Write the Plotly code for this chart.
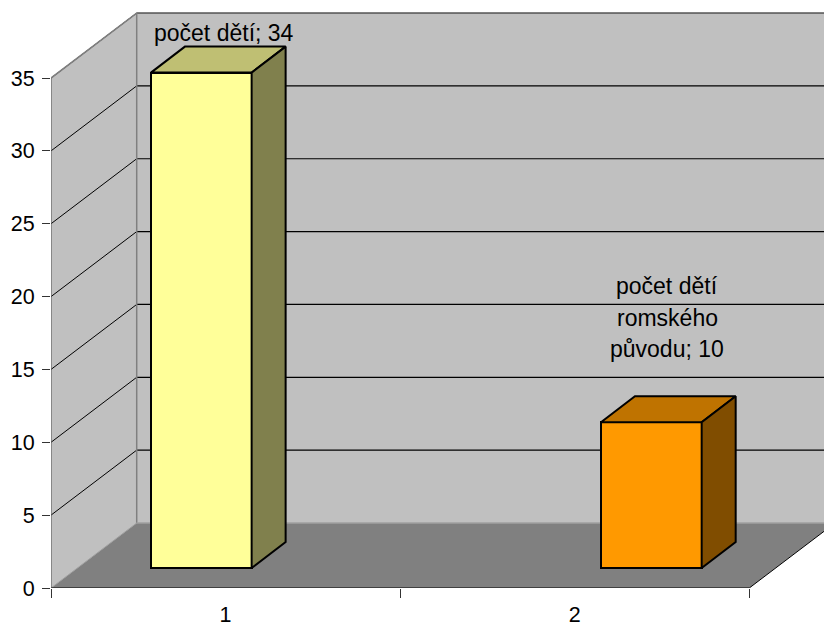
import plotly.graph_objects as go

# data
categories = [1, 2]
values = [34, 10]
bar_labels = [["počet dětí; 34"], ["počet dětí", "romského", "původu; 10"]]
front_colors = ["#FFFF99", "#FF9900"]
top_colors = ["#BFBF73", "#BF7300"]
side_colors = ["#80804D", "#804D00"]
y_ticks = [0, 5, 10, 15, 20, 25, 30, 35]

# geometry
W, H = 824, 626
L, B = 51, 38
PX_X = 349.15         # px per category
PX_Y = 14.57          # px per value unit
ux = lambda px: px / PX_X
uy = lambda px: px / PX_Y
x0, x1 = 0.5, 2.5
y_top = 35
wall_dx, wall_dy = ux(85.7), uy(65)
bar_dx, bar_dy = ux(34), uy(26)
bar_w = ux(100.7)
bar_shift = [ux(-24.3), ux(76.6)]
floor_lift = uy(20)
x_max = x0 + (W - L) / PX_X
y_max = (H - B) / PX_Y

shapes = []


def poly(pts, fill, line=None, width=1):
    path = "M " + " L ".join(f"{x},{y}" for x, y in pts) + " Z"
    shapes.append(dict(type="path", path=path, xref="x", yref="y", layer="below",
                       fillcolor=fill, line=dict(color=line or fill, width=width if line else 0)))


def seg(a, b, color, width=1):
    shapes.append(dict(type="line", xref="x", yref="y", layer="below",
                       x0=a[0], y0=a[1], x1=b[0], y1=b[1], line=dict(color=color, width=width)))


bx0, by0 = x0 + wall_dx, wall_dy
bx1 = x1 + wall_dx
# back wall, side wall, floor
poly([(bx0, by0), (bx1, by0), (bx1, by0 + y_top), (bx0, by0 + y_top)], "#C0C0C0")
poly([(x0, 0), (bx0, by0), (bx0, by0 + y_top), (x0, y_top)], "#C0C0C0")
poly([(x0, 0), (x1, 0), (bx1, by0), (bx0, by0)], "#808080")
# gridlines on both walls
for t in y_ticks[1:]:
    seg((x0, t), (bx0, by0 + t), "#000000")
    seg((bx0, by0 + t), (bx1, by0 + t), "#000000", 1.2)
# wall edges
seg((x0, 0), (x0, y_top), "#606060", 1.2)
seg((x0, y_top), (bx0, by0 + y_top), "#808080", 1.5)
seg((bx0, by0 + y_top), (bx1, by0 + y_top), "#808080", 1.5)
seg((bx0, by0), (bx0, by0 + y_top), "#808080", 1.5)
seg((bx0, by0), (bx1, by0), "#A0A0A0", 1.5)
seg((x0, 0), (bx0, by0), "#A0A0A0", 1)
# floor front edges
seg((x0, 0), (x1, 0), "#000000", 1.2)
seg((x1, 0), (bx1, by0), "#000000", 1)

fig = go.Figure()

# front faces
fig.add_trace(go.Bar(
    x=[c + s for c, s in zip(categories, bar_shift)],
    y=values,
    base=[floor_lift] * len(values),
    width=bar_w,
    marker=dict(color=front_colors, line=dict(color="#000000", width=2)),
    showlegend=False,
    hoverinfo="skip",
))

# top and side faces
for c, s, v, tc, sc in zip(categories, bar_shift, values, top_colors, side_colors):
    xl = c + s - bar_w / 2
    xr = c + s + bar_w / 2
    yb = floor_lift
    yt = floor_lift + v
    fig.add_trace(go.Scatter(
        x=[xl, xr, xr + bar_dx, xl + bar_dx, xl],
        y=[yt, yt, yt + bar_dy, yt + bar_dy, yt],
        mode="lines", fill="toself", fillcolor=tc,
        line=dict(color="#000000", width=2), showlegend=False, hoverinfo="skip",
    ))
    fig.add_trace(go.Scatter(
        x=[xr, xr + bar_dx, xr + bar_dx, xr, xr],
        y=[yb, yb + bar_dy, yt + bar_dy, yt, yb],
        mode="lines", fill="toself", fillcolor=sc,
        line=dict(color="#000000", width=2), showlegend=False, hoverinfo="skip",
    ))

# data labels
FONT = "Liberation Sans, Arial, sans-serif"
FS = 21.5
LABEL_FS = 23
annotations = []
label_dx = [ux(-1.6), ux(92.3)]
label_top_dy = [uy(40), uy(136)]
LINE = 31.5
for c, v, lines, dx, dy in zip(categories, values, bar_labels, label_dx, label_top_dy):
    for i, text in enumerate(lines):
        annotations.append(dict(
            x=c + dx, y=floor_lift + v + dy - uy(LINE * i),
            xref="x", yref="y", text=text, showarrow=False,
            xanchor="center", yanchor="middle",
            font=dict(family=FONT, size=LABEL_FS, color="#000000"),
        ))

fig.update_layout(
    width=W, height=H,
    margin=dict(l=L, r=0, t=0, b=B, autoexpand=False),
    paper_bgcolor="#FFFFFF", plot_bgcolor="#FFFFFF",
    font=dict(family=FONT, size=FS, color="#000000"),
    shapes=shapes, annotations=annotations,
    bargap=0,
    showlegend=False,
    xaxis=dict(
        range=[x0, x_max], tickmode="array", tickvals=categories,
        ticks="", ticklen=0, showgrid=False, zeroline=False, showline=False,
        tickfont=dict(size=FS), ticklabelstandoff=11,
        minor=dict(tickmode="array", tickvals=[0.5, 1.5, 2.5], ticks="outside",
                   ticklen=9, tickcolor="#333333", tickwidth=1, showgrid=False),
    ),
    yaxis=dict(
        range=[0, y_max], tickmode="array", tickvals=y_ticks,
        ticks="outside", ticklen=8, tickcolor="#333333", tickwidth=1,
        showgrid=False, zeroline=False, showline=False,
        tickfont=dict(size=FS), ticklabelstandoff=3,
    ),
)

fig.write_html(
    "out.html",
    config={"displayModeBar": False},
    post_script="document.body.style.margin='0';document.documentElement.style.overflow='hidden';",
)
